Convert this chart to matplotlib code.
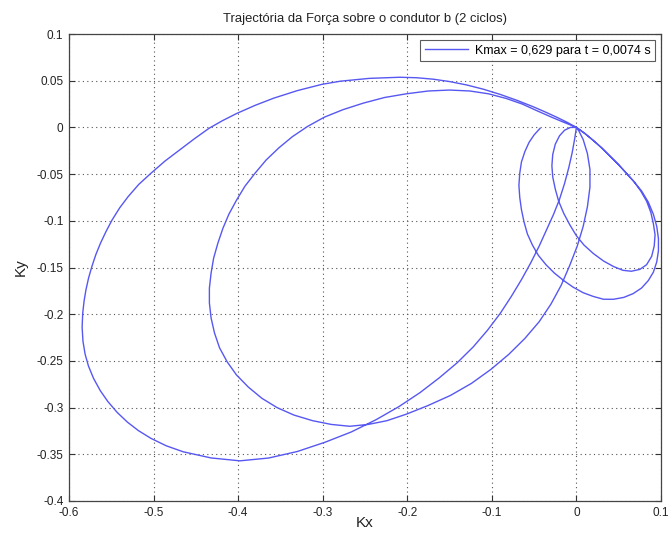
import matplotlib
matplotlib.use("Agg")
import matplotlib.pyplot as plt

# Force trajectory on conductor b over two cycles (Kx, Ky)
# first cycle: large loop (starts at the origin)
kx_c1_big = [
    0.0, -0.002, -0.005, -0.009, -0.014, -0.020, -0.027, -0.035, -0.044, -0.054,
    -0.065, -0.077, -0.090, -0.105, -0.122, -0.141, -0.162, -0.185, -0.210, -0.237,
    -0.266, -0.297, -0.330, -0.364, -0.398, -0.432, -0.465, -0.485, -0.503, -0.518,
    -0.531, -0.543, -0.554, -0.563, -0.571, -0.577, -0.581, -0.5835, -0.5845, -0.5838,
    -0.5822, -0.5800, -0.5768, -0.5730, -0.5682, -0.5628, -0.5560, -0.5490, -0.5400, -0.5300,
    -0.5175, -0.5030, -0.4865, -0.4690, -0.4515, -0.4345, -0.419, -0.402, -0.380, -0.358,
    -0.330, -0.301, -0.279, -0.245, -0.209, -0.189, -0.169, -0.150, -0.130, -0.110,
    -0.090, -0.070, -0.051, -0.037, -0.023, -0.011, 0.0,
]
ky_c1_big = [
    0.0, -0.012, -0.027, -0.043, -0.060, -0.077, -0.093, -0.109, -0.127, -0.145,
    -0.163, -0.181, -0.199, -0.217, -0.235, -0.252, -0.268, -0.284, -0.299, -0.313,
    -0.326, -0.337, -0.347, -0.354, -0.357, -0.3539, -0.3473, -0.3409, -0.3330, -0.3246,
    -0.3155, -0.3052, -0.2936, -0.2819, -0.2687, -0.2555, -0.2427, -0.2290, -0.214, -0.199,
    -0.186, -0.174, -0.161, -0.149, -0.136, -0.124, -0.111, -0.099, -0.086, -0.074,
    -0.061, -0.049, -0.036, -0.024, -0.012, -0.001, 0.007, 0.0148, 0.0236, 0.0313,
    0.0394, 0.0461, 0.0495, 0.0525, 0.0537, 0.0532, 0.0516, 0.0491, 0.0455, 0.0409,
    0.0353, 0.0289, 0.0221, 0.0166, 0.0108, 0.0055, 0.0,
]
# first cycle: small loop
kx_c1_small = [
    0.010, 0.020, 0.030, 0.040, 0.050, 0.059, 0.068, 0.076, 0.083, 0.088,
    0.091, 0.093, 0.092, 0.089, 0.083, 0.075, 0.065, 0.055, 0.044, 0.032,
    0.020, 0.009, 0.000, -0.008, -0.015, -0.021, -0.025, -0.028, -0.029, -0.028,
    -0.025, -0.020, -0.014, -0.007, 0.0,
]
ky_c1_small = [
    -0.0065, -0.014, -0.022, -0.031, -0.040, -0.049, -0.058, -0.068, -0.079, -0.091,
    -0.103, -0.115, -0.127, -0.138, -0.147, -0.152, -0.154, -0.153, -0.149, -0.143,
    -0.135, -0.126, -0.116, -0.104, -0.092, -0.079, -0.066, -0.053, -0.041, -0.029,
    -0.018, -0.009, -0.003, 0.0, 0.0,
]
# second cycle: large loop
kx_c2_big = [
    0.003, 0.008, 0.013, 0.016, 0.016, 0.013, 0.008, 0.001, -0.008, -0.018,
    -0.030, -0.044, -0.061, -0.080, -0.101, -0.124, -0.149, -0.176, -0.201, -0.224,
    -0.246, -0.268, -0.290, -0.312, -0.334, -0.354, -0.372, -0.388, -0.402, -0.413,
    -0.422, -0.428, -0.432, -0.434, -0.434, -0.432, -0.429, -0.424, -0.418, -0.411,
    -0.402, -0.392, -0.380, -0.367, -0.352, -0.336, -0.318, -0.298, -0.276, -0.252,
    -0.227, -0.201, -0.175, -0.150, -0.126, -0.104, -0.083, -0.064, -0.047, -0.032,
    -0.019, -0.008, 0.0,
]
ky_c2_big = [
    -0.004, -0.013, -0.028, -0.045, -0.064, -0.085, -0.106, -0.127, -0.148, -0.169,
    -0.189, -0.208, -0.226, -0.243, -0.259, -0.274, -0.287, -0.298, -0.307, -0.314,
    -0.318, -0.320, -0.318, -0.314, -0.308, -0.300, -0.290, -0.278, -0.265, -0.251,
    -0.236, -0.220, -0.204, -0.188, -0.172, -0.156, -0.140, -0.124, -0.108, -0.093,
    -0.078, -0.063, -0.049, -0.035, -0.022, -0.010, 0.001, 0.011, 0.019, 0.026,
    0.032, 0.036, 0.039, 0.040, 0.039, 0.036, 0.031, 0.025, 0.018, 0.012,
    0.007, 0.003, 0.0,
]
# second cycle: small loop (end of the two-cycle window)
kx_c2_small = [
    0.010, 0.020, 0.030, 0.040, 0.050, 0.059, 0.068, 0.077, 0.085, 0.091,
    0.095, 0.097, 0.097, 0.095, 0.091, 0.085, 0.077, 0.067, 0.056, 0.044,
    0.032, 0.020, 0.008, -0.004, -0.015, -0.026, -0.036, -0.045, -0.052, -0.058,
    -0.062, -0.065, -0.067, -0.068, -0.067, -0.065, -0.061, -0.056, -0.050, -0.043,
]
ky_c2_small = [
    -0.0065, -0.014, -0.022, -0.031, -0.040, -0.049, -0.058, -0.068, -0.080, -0.093,
    -0.106, -0.119, -0.132, -0.144, -0.155, -0.164, -0.172, -0.178, -0.182, -0.184,
    -0.184, -0.181, -0.177, -0.171, -0.164, -0.156, -0.147, -0.137, -0.126, -0.114,
    -0.101, -0.088, -0.075, -0.062, -0.049, -0.037, -0.026, -0.016, -0.008, -0.001,
]

kx = kx_c1_big + kx_c1_small + kx_c2_big + kx_c2_small
ky = ky_c1_big + ky_c1_small + ky_c2_big + ky_c2_small

x_ticks = [-0.6, -0.5, -0.4, -0.3, -0.2, -0.1, 0.0, 0.1]
x_labels = ["-0.6", "-0.5", "-0.4", "-0.3", "-0.2", "-0.1", "0", "0.1"]
y_ticks = [-0.4, -0.35, -0.3, -0.25, -0.2, -0.15, -0.1, -0.05, 0.0, 0.05, 0.1]
y_labels = ["-0.4", "-0.35", "-0.3", "-0.25", "-0.2", "-0.15", "-0.1", "-0.05",
            "0", "0.05", "0.1"]

title = "Trajectória da Força sobre o condutor b (2 ciclos)"
legend_label = "Kmax = 0,629 para t = 0,0074 s"

plt.rcParams["font.family"] = ["Liberation Sans", "DejaVu Sans"]
plt.rcParams["axes.unicode_minus"] = False

fig = plt.figure(figsize=(6.72, 5.34), dpi=100)
ax = fig.add_axes([0.1027, 0.0618, 0.8809, 0.8745])

ax.plot(kx, ky, color=(0.34, 0.34, 0.95), lw=1.0, label=legend_label,
        solid_joinstyle="round")

ax.set_xlim(-0.6, 0.1)
ax.set_ylim(-0.4, 0.1)
ax.set_xticks(x_ticks)
ax.set_xticklabels(x_labels)
ax.set_yticks(y_ticks)
ax.set_yticklabels(y_labels)
ax.tick_params(direction="in", top=True, right=True, length=4, width=0.8,
               colors="#333333", labelsize=8.5, pad=4)
for lbl in ax.get_xticklabels() + ax.get_yticklabels():
    lbl.set_color("#222222")
for sp in ax.spines.values():
    sp.set_color("#444444")
    sp.set_linewidth(0.9)

ax.grid(True, linestyle=(0, (1, 3)), color="#555555", linewidth=0.8)

ax.set_title(title, fontsize=9.4, pad=9, color="#222222")
ax.set_xlabel("Kx", fontsize=11, labelpad=-1.5, color="#222222")
ax.set_ylabel("Ky", fontsize=11, labelpad=6, color="#222222")

leg = ax.legend(loc="upper right", fontsize=9, frameon=True, fancybox=False,
                borderpad=0.35, handlelength=3.5, handletextpad=0.5,
                borderaxespad=0.5)
leg.get_frame().set_edgecolor("#333333")
leg.get_frame().set_linewidth(0.8)

fig.savefig("out.png", dpi=100)
